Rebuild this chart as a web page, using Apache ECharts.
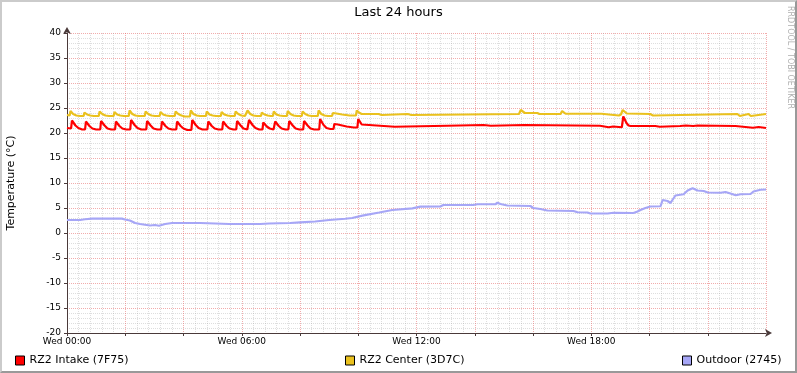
<!DOCTYPE html>
<html>
<head>
<meta charset="utf-8">
<script src="https://cdn.jsdelivr.net/npm/echarts@6/dist/echarts.min.js"></script>
<style>
html,body{margin:0;padding:0;background:#fff;}
#wrap{position:relative;width:797px;height:373px;}
#chart{width:797px;height:373px;}
#frame{position:absolute;left:0;top:0;width:797px;height:373px;box-sizing:border-box;border-top:2px solid #cbcbcb;border-left:2px solid #cbcbcb;border-right:2px solid #999;border-bottom:2px solid #999;pointer-events:none;}
</style>
</head>
<body>
<div id="wrap"><div id="chart"></div><div id="frame"></div></div>
<script>
// ---- data (hours since Wed 00:00, °C) ----
const titleText = 'Last 24 hours';
const yAxisName = 'Temperature (°C)';
const seriesNames = ['RZ2 Intake (7F75)', 'RZ2 Center (3D7C)', 'Outdoor (2745)'];
const seriesColors = ['#ff0000', '#eac11e', '#a6a6f6'];
const xTickHours = [0, 6, 12, 18];
const xTickLabels = ['Wed 00:00', 'Wed 06:00', 'Wed 12:00', 'Wed 18:00'];

const intake = [
[0.00,21.0],[0.14,20.9],[0.17,22.5],[0.23,22.4],[0.29,21.5],[0.39,21.0],[0.52,20.7],
[0.62,20.7],[0.65,22.3],[0.71,22.2],[0.77,21.4],[0.87,20.9],[1.00,20.7],
[1.14,20.7],[1.17,22.4],[1.23,22.3],[1.29,21.5],[1.39,20.9],[1.52,20.7],
[1.65,20.7],[1.68,22.3],[1.74,22.2],[1.80,21.4],[1.90,20.9],[2.03,20.7],
[2.17,20.7],[2.20,22.6],[2.26,22.5],[2.32,21.6],[2.42,21.0],[2.55,20.7],
[2.72,20.7],[2.75,22.4],[2.81,22.3],[2.87,21.5],[2.97,20.9],[3.10,20.7],
[3.23,20.7],[3.26,22.3],[3.32,22.2],[3.38,21.4],[3.48,20.9],[3.61,20.7],
[3.75,20.7],[3.78,22.3],[3.84,22.2],[3.90,21.4],[4.00,20.9],[4.13,20.6],
[4.27,20.6],[4.30,22.6],[4.36,22.5],[4.42,21.6],[4.52,21.0],[4.65,20.7],
[4.82,20.7],[4.85,22.3],[4.91,22.2],[4.97,21.4],[5.07,20.9],[5.20,20.7],
[5.33,20.7],[5.36,22.3],[5.42,22.2],[5.48,21.4],[5.58,20.9],[5.71,20.7],
[5.81,20.7],[5.84,22.4],[5.90,22.3],[5.96,21.5],[6.06,20.9],[6.19,20.7],
[6.22,20.7],[6.25,22.6],[6.31,22.5],[6.37,21.6],[6.47,21.0],[6.60,20.7],
[6.71,20.7],[6.74,22.1],[6.80,22.0],[6.86,21.3],[6.96,20.9],[7.09,20.7],
[7.12,20.7],[7.15,22.3],[7.21,22.2],[7.27,21.4],[7.37,20.9],[7.50,20.7],
[7.60,20.7],[7.63,22.4],[7.69,22.3],[7.75,21.5],[7.85,20.9],[7.98,20.7],
[8.11,20.7],[8.14,22.4],[8.20,22.3],[8.26,21.5],[8.36,20.9],[8.49,20.7],
[8.66,20.7],[8.69,22.8],[8.75,22.6],[8.81,21.6],[8.91,21.0],[9.04,20.8],
[9.15,20.8],[9.18,21.8],[9.30,21.7],[9.45,21.5],[9.60,21.3],[9.85,21.1],[9.97,21.1],
[10.00,22.8],[10.06,22.6],[10.12,21.7],[10.18,21.5],
[10.75,21.45],[10.80,21.25],[11.25,21.25],[11.30,21.45],[13.05,21.45],[13.10,21.6],[14.30,21.6],[14.35,21.45],[14.55,21.45],[14.60,21.6],[15.70,21.6],[15.75,21.45],
[18.30,21.45],[18.35,21.15],[18.60,21.15],[18.65,21.3],[18.75,21.3],[18.80,21.15],[19.05,21.15],
[19.10,23.3],[19.15,23.1],[19.21,22.0],[19.28,21.5],[19.35,21.4],
[20.20,21.4],[20.25,21.25],[20.35,21.25],[20.40,21.4],[21.05,21.4],[21.10,21.5],[21.25,21.5],[21.30,21.4],[21.50,21.4],[21.55,21.5],[21.65,21.5],[21.70,21.4],
[22.95,21.4],[23.00,21.05],[23.55,21.05],[23.60,21.2],[23.75,21.2],[23.80,21.0],[24.00,21.0]
];

const center = [
[0.00,23.6],[0.09,23.5],[0.12,24.4],[0.17,24.3],[0.21,23.8],[0.32,23.5],[0.45,23.4],
[0.57,23.4],[0.60,24.1],[0.65,24.0],[0.69,23.7],[0.80,23.5],[0.92,23.4],
[1.09,23.4],[1.12,24.3],[1.17,24.2],[1.21,23.8],[1.32,23.5],[1.44,23.4],
[1.60,23.4],[1.63,24.2],[1.68,24.1],[1.72,23.7],[1.83,23.5],[1.95,23.4],
[2.12,23.4],[2.15,24.5],[2.20,24.4],[2.24,23.8],[2.35,23.5],[2.47,23.4],
[2.67,23.4],[2.70,24.3],[2.75,24.2],[2.79,23.8],[2.90,23.5],[3.02,23.4],
[3.18,23.4],[3.21,24.2],[3.26,24.1],[3.30,23.7],[3.41,23.5],[3.53,23.4],
[3.70,23.4],[3.73,24.3],[3.78,24.2],[3.82,23.8],[3.93,23.5],[4.05,23.3],
[4.22,23.3],[4.25,24.5],[4.30,24.4],[4.34,23.8],[4.45,23.5],[4.57,23.4],
[4.77,23.4],[4.80,24.3],[4.85,24.2],[4.89,23.7],[5.00,23.5],[5.12,23.4],
[5.28,23.4],[5.31,24.2],[5.36,24.1],[5.40,23.7],[5.51,23.5],[5.63,23.4],
[5.76,23.4],[5.79,24.3],[5.84,24.2],[5.88,23.8],[5.99,23.5],[6.11,23.4],
[6.17,23.4],[6.20,24.5],[6.25,24.4],[6.29,23.8],[6.40,23.5],[6.52,23.4],
[6.66,23.4],[6.69,24.1],[6.74,24.0],[6.78,23.7],[6.89,23.5],[7.00,23.4],
[7.07,23.4],[7.10,24.3],[7.15,24.2],[7.19,23.7],[7.30,23.5],[7.42,23.4],
[7.55,23.4],[7.58,24.4],[7.63,24.3],[7.67,23.8],[7.78,23.5],[7.90,23.4],
[8.06,23.4],[8.09,24.3],[8.14,24.2],[8.18,23.8],[8.29,23.5],[8.41,23.4],
[8.61,23.4],[8.64,24.5],[8.69,24.4],[8.73,23.8],[8.84,23.5],[8.96,23.4],
[9.10,23.4],[9.13,24.0],[9.25,23.9],[9.45,23.7],[9.70,23.5],[9.92,23.5],
[9.95,24.5],[10.00,24.4],[10.05,24.0],[10.12,23.8],
[10.70,23.8],[10.72,23.6],[10.80,23.6],[10.82,23.8],[11.70,23.8],[11.72,23.6],[11.82,23.6],[11.84,23.8],
[15.52,23.8],[15.58,24.6],[15.64,24.4],[15.72,24.0],[16.15,24.0],[16.22,23.8],
[16.95,23.8],[17.00,24.4],[17.06,24.1],[17.12,23.85],
[18.35,23.85],[18.40,23.5],[18.95,23.5],[19.02,23.7],[19.08,24.6],[19.14,24.4],[19.22,23.9],
[20.02,23.8],[20.05,23.5],[20.12,23.5],[20.15,23.8],
[23.02,23.8],[23.05,23.4],[23.10,23.4],[23.13,23.8],[23.40,23.8],[23.43,23.4],[23.48,23.4],[23.51,23.8],[24.00,23.8]
];

const outdoor = [
[0.00,2.6],[0.45,2.6],[0.62,2.75],[0.86,2.87],[1.89,2.87],[1.99,2.7],[2.16,2.5],[2.34,2.0],[2.51,1.8],[2.85,1.5],[3.02,1.6],[3.16,1.45],[3.37,1.8],[3.61,2.0],
[4.57,2.0],[5.09,1.9],[5.57,1.8],[6.63,1.8],[6.94,1.9],[7.66,2.0],[8.00,2.13],[8.52,2.3],[9.00,2.6],[9.55,2.85],[9.79,3.0],[10.14,3.47],[10.72,4.1],[11.17,4.6],[11.86,4.93],
[12.13,5.27],[12.82,5.3],[12.92,5.6],[13.95,5.6],[14.09,5.75],[14.71,5.75],[14.78,6.05],[14.88,5.8],[15.12,5.5],[15.91,5.4],[16.01,5.0],[16.25,4.8],[16.49,4.5],[17.39,4.4],[17.53,4.15],[17.87,4.1],[17.97,3.9],
[18.56,3.9],[18.76,4.05],[19.45,4.0],[19.59,4.3],[19.69,4.6],[19.86,5.0],[20.03,5.3],[20.38,5.35],[20.45,6.6],[20.62,6.4],[20.72,6.0],[20.89,7.5],[21.17,7.75],[21.31,8.5],[21.48,8.95],[21.65,8.5],[21.86,8.4],
[22.00,8.1],[22.44,8.05],[22.61,8.2],[22.78,7.9],[22.96,7.55],[23.13,7.75],[23.47,7.8],[23.57,8.3],[23.81,8.65],[24.00,8.7]
];

// ---- chart ----
const FONT = 'DejaVu Sans';
const axisColor = '#4a3a3a';
const majorGrid = {show: true, lineStyle: {color: 'rgba(230,90,90,0.5)', type: [1, 1], width: 1}};
const minorGrid = {show: true, lineStyle: {color: 'rgba(160,160,160,0.35)', type: [1, 1], width: 1}};

function legendFor(name, left) {
  return {
    data: [name], left: left, top: 355, padding: 0, icon: 'rect',
    itemWidth: 9, itemHeight: 9, selectedMode: false,
    itemStyle: {borderColor: '#000', borderWidth: 1},
    lineStyle: {opacity: 0},
    textStyle: {fontFamily: FONT, fontSize: 11, color: '#000'}
  };
}

const chart = echarts.init(document.getElementById('chart'), null, {renderer: 'canvas'});
chart.setOption({
  animation: false,
  backgroundColor: '#ffffff',
  title: {text: titleText, left: 'center', top: 6, padding: 0,
    textStyle: {fontFamily: FONT, fontSize: 13, fontWeight: 'normal', color: '#000'}},
  grid: {left: 67, top: 33, width: 699, height: 300, containLabel: false, outerBoundsMode: 'none'},
  legend: [legendFor(seriesNames[0], 15), legendFor(seriesNames[1], 345), legendFor(seriesNames[2], 682)],
  xAxis: {
    type: 'value', min: 0, max: 24, interval: 2,
    axisLine: {show: true, onZero: false, lineStyle: {color: axisColor, width: 1}, symbol: ['none', 'arrow'], symbolSize: [6, 7], symbolOffset: [0, 6]},
    axisTick: {show: true, length: 3, inside: false, lineStyle: {color: axisColor}},
    minorTick: {show: false},
    axisLabel: {margin: 4, fontFamily: FONT, fontSize: 9, color: '#000', showMaxLabel: false,
      formatter: function (v) { const i = xTickHours.indexOf(v); return i >= 0 ? xTickLabels[i] : ''; }},
    splitLine: majorGrid, minorSplitLine: minorGrid
  },
  yAxis: {
    type: 'value', min: -20, max: 40, interval: 5,
    name: yAxisName, nameLocation: 'middle', nameGap: 50, nameRotate: 90,
    nameTextStyle: {fontFamily: FONT, fontSize: 11, color: '#000'},
    axisLine: {show: true, onZero: false, lineStyle: {color: axisColor, width: 1}, symbol: ['none', 'arrow'], symbolSize: [6, 7], symbolOffset: [0, 6]},
    axisTick: {show: true, length: 3, lineStyle: {color: axisColor}},
    minorTick: {show: false, splitNumber: 5},
    axisLabel: {margin: 6, fontFamily: FONT, fontSize: 9, color: '#000'},
    splitLine: majorGrid, minorSplitLine: minorGrid
  },
  graphic: [{
    type: 'text', x: 790, y: 6, rotation: -Math.PI / 2, silent: true,
    style: {text: 'RRDTOOL / TOBI OETIKER', fontFamily: FONT, fontSize: 8, fill: '#b0b0b0', align: 'left', verticalAlign: 'middle'}
  }],
  series: [
    {name: seriesNames[0], type: 'line', data: intake, showSymbol: false, color: seriesColors[0], lineStyle: {width: 2.2}},
    {name: seriesNames[1], type: 'line', data: center, showSymbol: false, color: seriesColors[1], lineStyle: {width: 2.2}},
    {name: seriesNames[2], type: 'line', data: outdoor, showSymbol: false, color: seriesColors[2], lineStyle: {width: 2.2}}
  ]
});
</script>
</body>
</html>
